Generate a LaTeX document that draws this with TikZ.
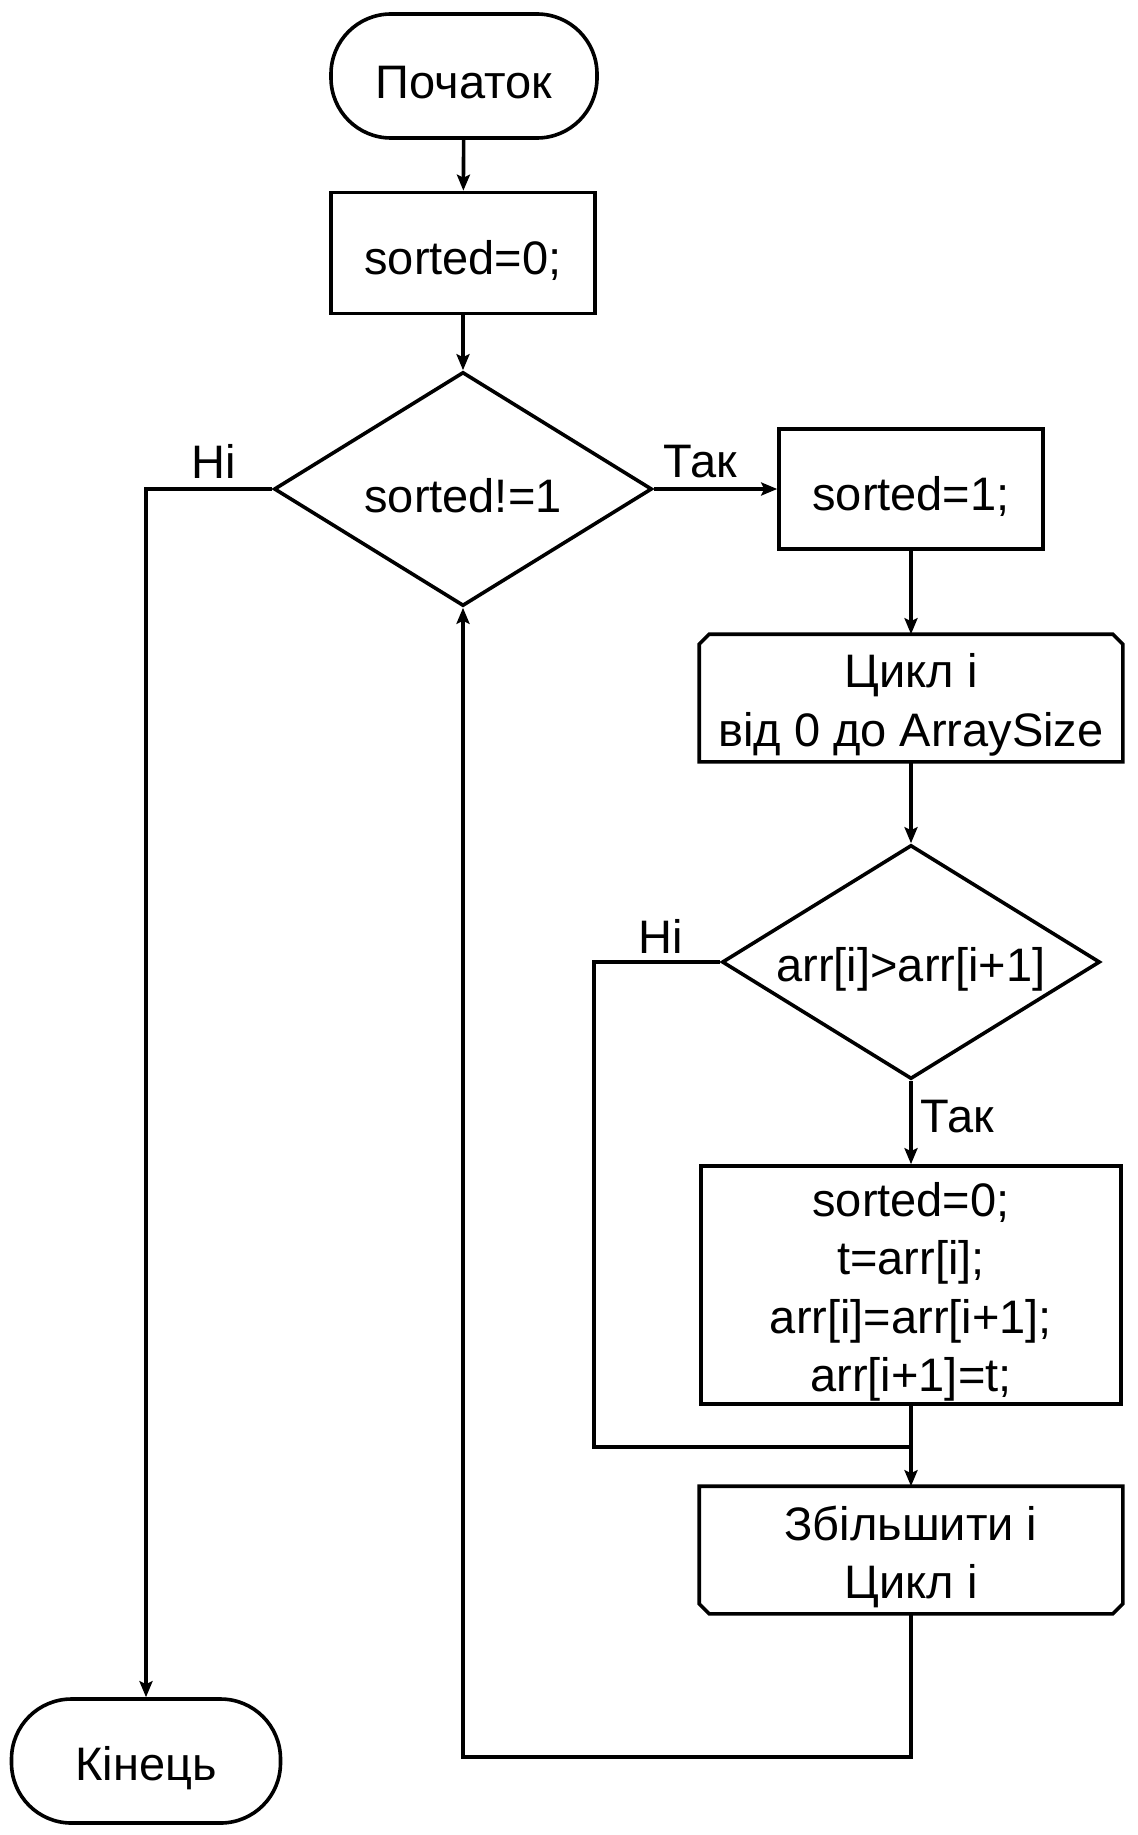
\documentclass[tikz,border=0pt]{standalone}
\usepackage{fontspec}
\setmainfont{Liberation Sans}
\usetikzlibrary{shapes.geometric,arrows.meta}
\begin{document}
\begin{tikzpicture}[x=0.5pt,y=-0.5pt, line width=1.8pt,
 base/.style={inner sep=0pt, align=center, font=\fontsize{23.5pt}{29.2pt}\selectfont},
 txt/.style={base, yshift=-3.5pt},
 term/.style={base, draw, rectangle, rounded corners=30pt},
 proc/.style={base, draw, rectangle},
 loopbox/.style={base, rectangle, minimum width=210pt, minimum height=62pt},
 dec/.style={base, draw, diamond, minimum width=189pt, minimum height=117pt},
 arr/.style={-{Stealth[length=8pt,width=6.5pt,inset=1.5pt]}},
 lab/.style={base}
]
\useasboundingbox (0,0) rectangle (1137,1835);
\node[term, minimum width=133pt, minimum height=62pt, label={[txt]center:Початок}] (start) at (464,76) {};
\node[proc, minimum width=132pt, minimum height=60.5pt, label={[txt]center:sorted=0;}] (s0) at (463,253) {};
\node[dec, label={[txt]center:sorted!=1}] (d1) at (463,489) {};
\node[proc, minimum width=132pt, minimum height=60pt, label={[txt]center:sorted=1;}] (s1) at (911,489) {};
\node[loopbox, label={[txt]center:Цикл і\\від 0 до ArraySize}] (ls) at (911,698) {};
\draw ([yshift=-5pt]ls.north west) -- ([xshift=5pt]ls.north west) -- ([xshift=-5pt]ls.north east) -- ([yshift=-5pt]ls.north east) -- (ls.south east) -- (ls.south west) -- cycle;
\node[dec, label={[txt]center:arr[i]>arr[i+1]}] (d2) at (911,962) {};
\node[proc, minimum width=210pt, minimum height=119pt, label={[txt]center:sorted=0;\\t=arr[i];\\arr[i]=arr[i+1];\\arr[i+1]=t;}] (sw) at (911,1285) {};
\node[loopbox, label={[txt]center:Збільшити і\\Цикл і}] (le) at (911,1550) {};
\draw ([yshift=5pt]le.south west) -- ([xshift=5pt]le.south west) -- ([xshift=-5pt]le.south east) -- ([yshift=5pt]le.south east) -- (le.north east) -- (le.north west) -- cycle;
\node[term, minimum width=134.5pt, minimum height=62pt, label={[txt]center:Кінець}] (end) at (146,1761) {};

\node[lab] (no1) at (214,461) {Ні};
\node[lab] (yes1) at (700,462) {Так};
\node[lab] (no2) at (661,936) {Ні};
\node[lab] (yes2) at (957,1117) {Так};

\coordinate (c1) at (146,489);
\coordinate (c2) at (594,962);
\coordinate (c3) at (594,1447);
\coordinate (c4) at (911,1447);
\coordinate (c5) at (911,1757);
\coordinate (c6) at (463,1757);

\draw[arr] (start) -- (s0);
\draw[arr] (s0) -- (d1);
\draw[arr] (d1.east) -- (s1.west);
\draw[arr] (d1.west) -- (c1) -- (end.north);
\draw[arr] (s1) -- (ls);
\draw[arr] (ls) -- (d2);
\draw[arr] (d2.south) -- (sw.north);
\draw (d2.west) -- (c2) -- (c3) -- (c4);
\draw[arr] (sw.south) -- (le.north);
\draw[arr] (le.south) -- (c5) -- (c6) -- (d1.south);
\end{tikzpicture}
\end{document}
